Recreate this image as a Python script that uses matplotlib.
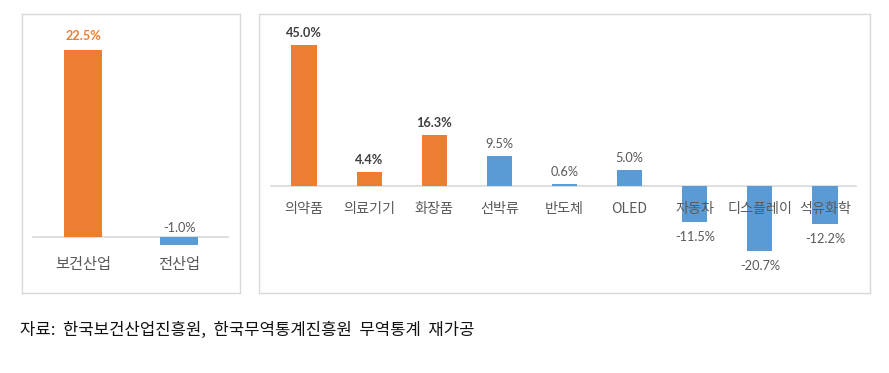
import matplotlib
matplotlib.use("Agg")
import matplotlib.pyplot as plt

plt.rcParams['font.family'] = ['Noto Sans CJK KR', 'DejaVu Sans']

# ---- data ----
left_categories = ["보건산업", "전산업"]
left_values = [22.5, -1.0]
left_is_health = [True, False]

right_categories = ["의약품", "의료기기", "화장품", "선박류", "반도체", "OLED",
                    "자동차", "디스플레이", "석유화학"]
right_values = [45.0, 4.4, 16.3, 9.5, 0.6, 5.0, -11.5, -20.7, -12.2]
right_is_health = [True, True, True, False, False, False, False, False, False]

source_note = "자료:  한국보건산업진흥원,  한국무역통계진흥원  무역통계  재가공"

ORANGE = "#ED7D31"
BLUE = "#5B9BD5"
GRAY = "#595959"
BORDER = "#D9D9D9"

W, H = 889, 373
fig = plt.figure(figsize=(W / 100, H / 100), dpi=100)


def px_axes(x0, y0, x1, y1):
    return fig.add_axes([x0 / W, 1 - y1 / H, (x1 - x0) / W, (y1 - y0) / H])


def style_box(ax):
    ax.set_xticks([])
    ax.set_yticks([])
    for s in ax.spines.values():
        s.set_color(BORDER)
        s.set_linewidth(1.0)


NUMFONT = ["Lato", "DejaVu Sans"]

# ---- left panel ----
axL = px_axes(22, 14, 240, 293)
style_box(axL)
xl = list(range(len(left_categories)))
axL.bar(xl, left_values, width=0.40,
        color=[ORANGE if h else BLUE for h in left_is_health], zorder=2)
axL.set_xlim(-0.635, 1.635)
scaleL = 8.3
axL.set_ylim(-(293 - 237) / scaleL, (237 - 14) / scaleL)
axL.axhline(0, xmin=(33 - 22) / 218, xmax=(228 - 22) / 218, color=BORDER, lw=1.2, zorder=1)
for i, (c, v, h) in enumerate(zip(left_categories, left_values, left_is_health)):
    if h:
        axL.annotate(f"{v:.1f}%", (i, v), xytext=(0, 8), textcoords="offset pixels",
                     ha="center", va="bottom", fontsize=9.2, fontweight="bold",
                     color=ORANGE, family=NUMFONT)
    else:
        axL.annotate(f"{v:.1f}%", (i, 0), xytext=(0, 3), textcoords="offset pixels",
                     ha="center", va="bottom", fontsize=9.2,
                     color=GRAY, family=NUMFONT)
    axL.annotate(c, (i, 0), xytext=(0, -28), textcoords="offset pixels",
                 ha="center", va="center", fontsize=11, color=GRAY, zorder=3)

# ---- right panel ----
axR = px_axes(259, 14, 870, 293)
style_box(axR)
xr = list(range(len(right_categories)))
axR.bar(xr, right_values, width=0.385,
        color=[ORANGE if h else BLUE for h in right_is_health], zorder=2)
sp = 65.1
axR.set_xlim((259 - 304) / sp, 8 + (870 - 825) / sp)
scaleR = 3.13
axR.set_ylim(-(293 - 186) / scaleR, (186 - 14) / scaleR)
axR.axhline(0, xmin=(271 - 259) / 611, xmax=(856 - 259) / 611, color=BORDER, lw=1.2, zorder=1)
for i, (c, v, h) in enumerate(zip(right_categories, right_values, right_is_health)):
    if v >= 0:
        axR.annotate(f"{v:.1f}%", (i, v), xytext=(0, 6), textcoords="offset pixels",
                     ha="center", va="bottom", fontsize=9.2,
                     fontweight="bold" if h else "normal",
                     color="#404040" if h else GRAY, family=NUMFONT)
    else:
        axR.annotate(f"{v:.1f}%", (i, v), xytext=(0, -9), textcoords="offset pixels",
                     ha="center", va="top", fontsize=9.2,
                     color=GRAY, family=NUMFONT)
    axR.annotate(c, (i, 0), xytext=(0, -23), textcoords="offset pixels",
                 ha="center", va="center", fontsize=10.2, color=GRAY, zorder=3)

# ---- source note ----
fig.text(20 / W, 1 - 330 / H, source_note, ha="left", va="center",
         fontsize=12, color="#111111")

fig.savefig("out.png", dpi=100)
